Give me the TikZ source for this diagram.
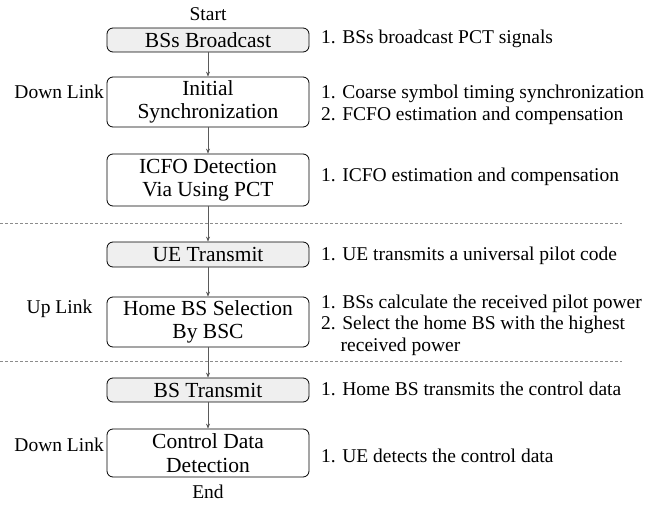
\documentclass[tikz,border=0pt]{standalone}
\usepackage{fontspec}
\setmainfont{Liberation Serif}
\usetikzlibrary{arrows.meta}
\definecolor{boxfill}{HTML}{EFEFEF}
\definecolor{linkgray}{HTML}{5A5A5A}
\definecolor{sepgray}{HTML}{8C8C8C}
\tikzset{
  stage/.style={draw=black, line width=0.8pt, rounded corners=6pt, minimum width=202pt,
    inner sep=0pt, align=center, font=\fontsize{21.5}{23.5}\selectfont},
  shaded/.style={stage, fill=boxfill},
  plain/.style={stage, fill=white},
  note/.style={anchor=west, align=left, inner sep=0pt, font=\fontsize{19.5}{21.5}\selectfont},
  side/.style={inner sep=0pt, font=\fontsize{19.5}{21.5}\selectfont},
  flow/.style={draw=linkgray, line width=0.7pt, -{Stealth[length=5pt,width=4pt,fill=black]}},
  sep/.style={draw=sepgray, line width=0.7pt, dash pattern=on 3pt off 2pt}
}
\begin{document}
\begin{tikzpicture}[x=1pt,y=-1pt]
\useasboundingbox (0,0) rectangle (657,505);

% terminal labels
\node[side] (start) at (208,14) {Start};
\node[side] (end) at (208,492) {End};

% process stages
\node[shaded, minimum height=24pt] (bcast) at (208,40) {BSs Broadcast};
\node[plain, minimum height=50pt] (sync) at (208,102) {Initial\\Synchronization};
\node[plain, minimum height=52pt] (icfo) at (208,180) {ICFO Detection\\Via Using PCT};
\node[shaded, minimum height=25pt] (uetx) at (208,254.5) {UE Transmit};
\node[plain, minimum height=50pt] (home) at (208,322) {Home BS Selection\\By BSC};
\node[shaded, minimum height=24pt] (bstx) at (208,390) {BS Transmit};
\node[plain, minimum height=48pt] (ctrl) at (208,453) {Control Data\\Detection};

% connectors
\draw[flow] (bcast) -- (sync);
\draw[flow] (sync) -- (icfo);
\draw[flow] (icfo) -- (uetx);
\draw[flow] (uetx) -- (home);
\draw[flow] (home) -- (bstx);
\draw[flow] (bstx) -- (ctrl);

% link phase separators
\coordinate (s1a) at (0,223);
\coordinate (s1b) at (622,223);
\coordinate (s2a) at (0,361);
\coordinate (s2b) at (622,361);
\draw[sep] (s1a) -- (s1b);
\draw[sep] (s2a) -- (s2b);

% phase labels
\node[side, anchor=east] (dl1) at (104,92) {Down Link};
\node[side] (ul) at (59.5,309) {Up Link};
\node[side, anchor=east] (dl2) at (104,445) {Down Link};

% step descriptions
\node[note] (n1) at (321,39) {1. BSs broadcast PCT signals};
\node[note] (n2) at (321,105) {1. Coarse symbol timing synchronization\\2. FCFO estimation and compensation};
\node[note] (n3) at (321,177) {1. ICFO estimation and compensation};
\node[note] (n4) at (321,256) {1. UE transmits a universal pilot code};
\node[note] (n5) at (321,325) {1. BSs calculate the received pilot power\\2. Select the home BS with the highest\\\hspace*{1em}received power};
\node[note] (n6) at (321,389) {1. Home BS transmits the control data};
\node[note] (n7) at (321,456) {1. UE detects the control data};
\end{tikzpicture}
\end{document}
